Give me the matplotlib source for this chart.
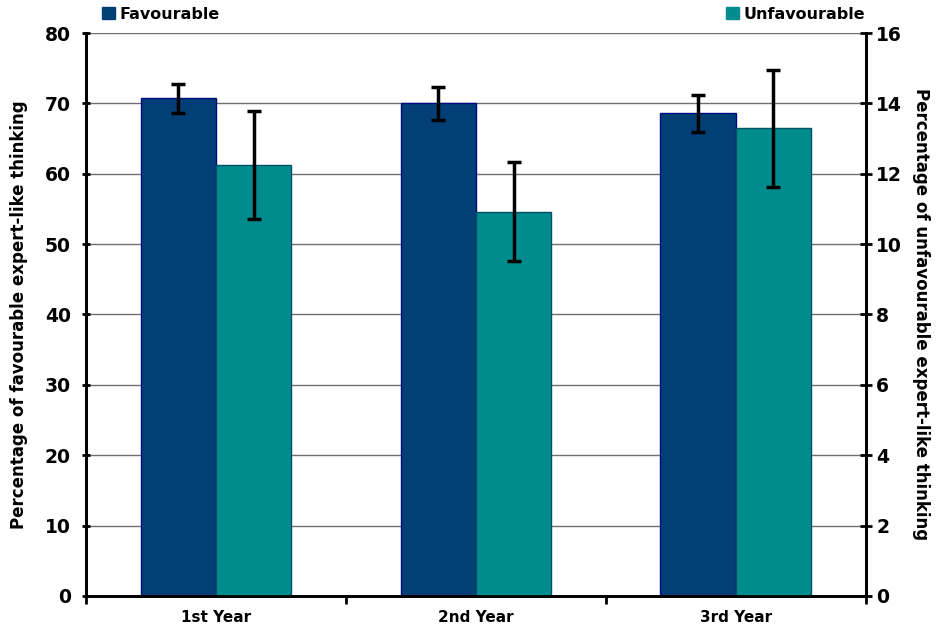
import numpy as np
import matplotlib.pyplot as plt

years = ['1st Year', '2nd Year', '3rd Year']
fav = [70.7, 70.0, 68.6]
fav_err = [2.0, 2.3, 2.6]
unfav = [12.24, 10.92, 13.29]
unfav_err = [1.53, 1.41, 1.66]

plt.rcParams['font.family'] = 'DejaVu Sans'
plt.rcParams['font.weight'] = 'bold'

fig = plt.figure(figsize=(9.4, 6.31), dpi=100)
ax = fig.add_axes([0.0915, 0.0555, 0.8295, 0.8922])
ax2 = ax.twinx()

x = np.arange(len(years))
w = 0.29

ax.set_axisbelow(True)
ax.yaxis.grid(True, color='#707070', linewidth=1)
ax.bar(x - w / 2, fav, w, color='#013F76', edgecolor='#000A80', linewidth=1, zorder=2)
ax.errorbar(x - w / 2, fav, yerr=fav_err, fmt='none', ecolor='black',
            elinewidth=2.5, capsize=5, capthick=2.5, zorder=3)
ax2.bar(x + w / 2, unfav, w, color='#008C8F', edgecolor='#005068', linewidth=1, zorder=2)
ax2.errorbar(x + w / 2, unfav, yerr=unfav_err, fmt='none', ecolor='black',
             elinewidth=2.5, capsize=5, capthick=2.5, zorder=3)

ax.set_xlim(-0.5, 2.5)
ax.set_ylim(0, 80)
ax2.set_ylim(0, 16)
ax.set_yticks(range(0, 81, 10))
ax2.set_yticks(range(0, 17, 2))

ax.set_xticks(x)
ax.set_xticklabels(years, fontsize=11, fontweight='bold')
ax.set_xticks([-0.5, 0.5, 1.5, 2.5], minor=True)
ax.tick_params(axis='x', which='major', length=0, pad=10)
ax.tick_params(axis='x', which='minor', length=6, width=2, direction='out')
ax.tick_params(axis='y', labelsize=13.5, length=6, width=2, direction='inout', pad=8)
ax2.tick_params(axis='y', labelsize=13.5, length=8, width=2, direction='inout')

for a in (ax, ax2):
    a.spines['top'].set_visible(False)
    for s in ('left', 'right', 'bottom'):
        a.spines[s].set_linewidth(2)

ax.set_ylabel('Percentage of favourable expert-like thinking', fontsize=12,
              fontweight='bold', labelpad=12)
ax2.set_ylabel('Percentage of unfavourable expert-like thinking', fontsize=12,
               fontweight='bold', rotation=270, labelpad=20)

fig.legend(handles=[plt.Rectangle((0, 0), 1, 1, color='#013F76')], labels=['Favourable'],
           loc='upper left', bbox_to_anchor=(0.093, 1.012), frameon=False,
           fontsize=11.5, handlelength=0.8, handleheight=0.8, handletextpad=0.3)
fig.legend(handles=[plt.Rectangle((0, 0), 1, 1, color='#008C8F')], labels=['Unfavourable'],
           loc='upper left', bbox_to_anchor=(0.757, 1.012), frameon=False,
           fontsize=11.5, handlelength=0.8, handleheight=0.8, handletextpad=0.3)

fig.savefig('out.png', dpi=100)
